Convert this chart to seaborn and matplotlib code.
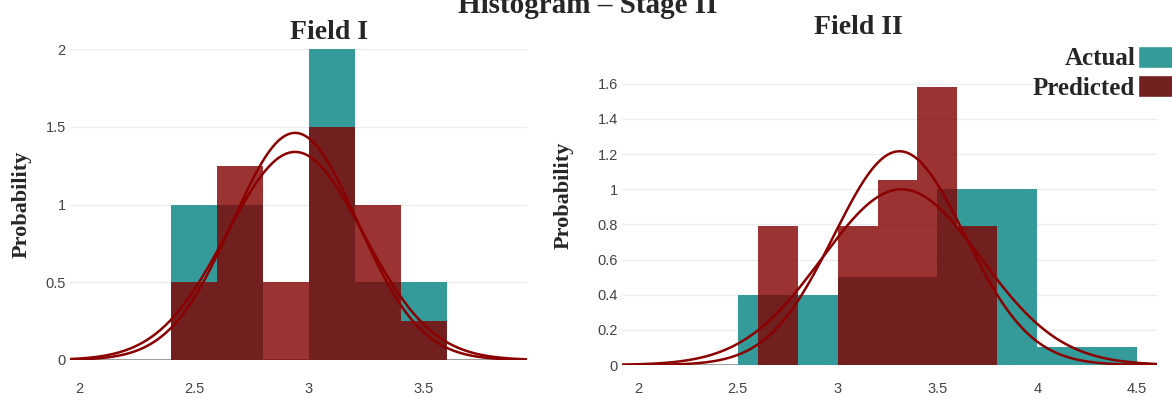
import numpy as np
import pandas as pd
import seaborn as sns
import matplotlib.pyplot as plt
from matplotlib.patches import Patch
from matplotlib.ticker import FuncFormatter

sns.set_style('white')
plt.rcParams['font.family'] = ['Liberation Sans', 'DejaVu Sans']

# Field I histogram (bin edges + bar heights)
f1_edges = [2.4, 2.6, 2.8, 3.0, 3.2, 3.4, 3.6]
f1_actual = [1.0, 1.0, 0.0, 2.0, 0.5, 0.5]
f1_pred = [0.5, 1.25, 0.5, 1.5, 1.0, 0.25]
# fitted normal curves: mean, sd
f1_curve_mean = [2.94, 2.94]
f1_curve_sd = [0.273, 0.298]

# Field II histogram
f2_act_edges = [2.5, 3.0, 3.5, 4.0, 4.5]
f2_actual = [0.4, 0.5, 1.0, 0.1]
f2_pred_edges = [2.6, 2.8, 3.0, 3.2, 3.4, 3.6, 3.8]
f2_pred = [0.79, 0.0, 0.79, 1.05, 1.58, 0.79]
f2_curve_mean = [3.31, 3.32]
f2_curve_sd = [0.328, 0.399]

teal = '#349a9a'
red = '#820000'
curve_col = '#8b0000'
serif = ['Liberation Serif', 'DejaVu Serif']

fig = plt.figure(figsize=(11.72, 3.98), dpi=100)
ax1 = fig.add_axes([0.0597, 0.0955, 0.390, 0.781])
ax2 = fig.add_axes([0.5307, 0.0829, 0.4565, 0.7286])


def hist(ax, edges, vals, color, alpha, z):
    mids = [(edges[i] + edges[i + 1]) / 2 for i in range(len(vals))]
    df = pd.DataFrame({'x': mids, 'w': vals})
    sns.histplot(data=df, x='x', weights='w', bins=list(edges), ax=ax,
                 color=color, alpha=alpha, linewidth=0, zorder=z)


def draw(ax, a_edges, a_vals, p_edges, p_vals, means, sds, xlim, ylim, yticks, xticks, xpad):
    for y in yticks[1:]:
        ax.axhline(y, color='#ededed', lw=1, zorder=0)
    ax.axhline(0, color='#8a8a8a', lw=1.2, zorder=0)
    hist(ax, a_edges, a_vals, teal, 1, 1)
    hist(ax, p_edges, p_vals, red, 0.8, 2)
    xs = np.linspace(xlim[0], xlim[1], 400)
    for m, s in zip(means, sds):
        pdf = np.exp(-0.5 * ((xs - m) / s) ** 2) / (s * np.sqrt(2 * np.pi))
        sns.lineplot(x=xs, y=pdf, ax=ax, color=curve_col, lw=1.8, zorder=3)
    ax.set_xlim(xlim)
    ax.set_ylim(ylim)
    ax.set_yticks(yticks)
    ax.set_xticks(xticks)
    fmt = FuncFormatter(lambda v, p: '%g' % v)
    ax.xaxis.set_major_formatter(fmt)
    ax.yaxis.set_major_formatter(fmt)
    ax.tick_params(axis='both', length=0, labelsize=10.5, labelcolor='#444444')
    ax.tick_params(axis='x', pad=xpad)
    ax.tick_params(axis='y', pad=3)
    sns.despine(ax=ax, left=True, bottom=True)
    ax.set_xlabel('')
    ax.set_ylabel('Probability', family=serif, fontweight='bold', fontsize=16)


draw(ax1, f1_edges, f1_actual, f1_edges, f1_pred, f1_curve_mean, f1_curve_sd,
     (1.96, 3.95), (0, 2.0), [0, 0.5, 1, 1.5, 2], [2, 2.5, 3, 3.5], 16)
draw(ax2, f2_act_edges, f2_actual, f2_pred_edges, f2_pred, f2_curve_mean, f2_curve_sd,
     (1.92, 4.6), (0, 1.65), [0, 0.2, 0.4, 0.6, 0.8, 1.0, 1.2, 1.4, 1.6],
     [2, 2.5, 3, 3.5, 4, 4.5], 12)
ax1.yaxis.set_label_coords(-0.085, 0.5)
ax2.yaxis.set_label_coords(-0.09, 0.585)

fig.text(0.5017, 0.967, 'Histogram \u2013 Stage II', ha='center', va='baseline',
         family=serif, fontweight='bold', fontsize=21)
fig.text(0.2807, 0.902, 'Field I', ha='center', va='baseline',
         family=serif, fontweight='bold', fontsize=20)
fig.text(0.7321, 0.9146, 'Field II', ha='center', va='baseline',
         family=serif, fontweight='bold', fontsize=20)

handles = [Patch(facecolor=teal), Patch(facecolor='#722020')]
leg = fig.legend(handles, ['Actual', 'Predicted'], loc='upper left',
                 bbox_to_anchor=(0.8814, 0.8844), markerfirst=False,
                 prop={'family': serif, 'weight': 'bold', 'size': 18},
                 handlelength=2.0, handleheight=0.95, handletextpad=0.1,
                 labelspacing=0.2, borderpad=0, borderaxespad=0,
                 frameon=True, facecolor='white', edgecolor='none', framealpha=1)

fig.savefig('out.png', dpi=100)
